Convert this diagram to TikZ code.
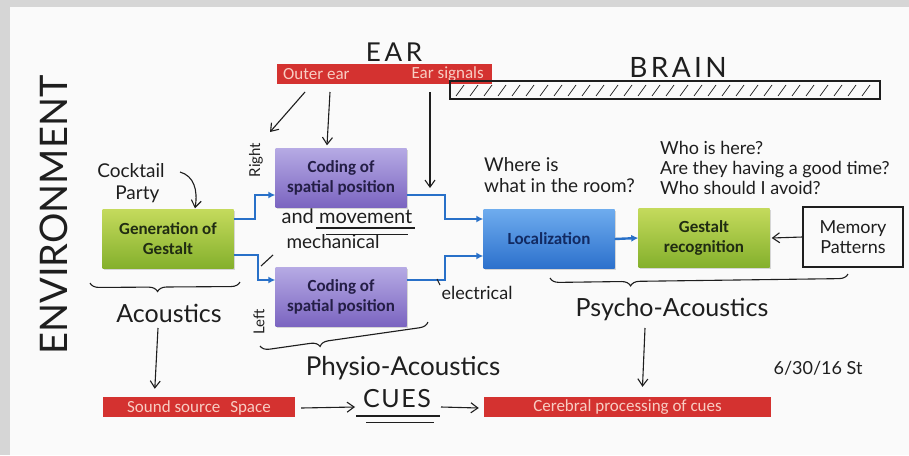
\documentclass[tikz,border=0pt]{standalone}
\usepackage{fontspec}
\setmainfont{Carlito}
\newfontfamily\hand{Lato}
\usetikzlibrary{arrows.meta,decorations.pathreplacing,shadows,calc}
\definecolor{bggray}{RGB}{214,214,214}
\definecolor{paper}{RGB}{250,250,250}
\definecolor{barred}{RGB}{212,50,48}
\definecolor{bartext}{RGB}{248,205,195}
\definecolor{gtop}{RGB}{196,218,92}
\definecolor{gbot}{RGB}{132,176,44}
\definecolor{gtext}{RGB}{32,44,18}
\definecolor{ptop}{RGB}{182,170,228}
\definecolor{pbot}{RGB}{122,100,192}
\definecolor{ptext}{RGB}{36,30,70}
\definecolor{btop}{RGB}{110,172,238}
\definecolor{bbot}{RGB}{44,112,204}
\definecolor{btext}{RGB}{18,42,98}
\definecolor{flow}{RGB}{40,112,200}
\definecolor{pen}{RGB}{30,30,30}
\begin{document}
\begin{tikzpicture}[x=1pt,y=-1pt,
  box/.style={minimum width=131pt,minimum height=59pt,align=center,inner sep=2pt,
    font=\fontsize{17}{20}\selectfont\bfseries,
    drop shadow={shadow xshift=1.5pt,shadow yshift=-1.5pt,opacity=0.3}},
  greenbox/.style={box,top color=gtop,bottom color=gbot,text=gtext},
  purplebox/.style={box,top color=ptop,bottom color=pbot,text=ptext},
  bluebox/.style={box,top color=btop,bottom color=bbot,text=btext},
  redbar/.style={fill=barred,inner sep=0pt,minimum height=20pt},
  bartxt/.style={text=bartext,inner sep=0pt,font=\fontsize{17}{19}\selectfont},
  flowline/.style={draw=flow,line width=2.4pt,-{Latex[length=7pt,width=7pt]}},
  pentip/.style={draw=pen,line width=1.1pt,-{Straight Barb[length=7pt,width=10pt]}},
  penline/.style={draw=pen,line width=1.1pt},
  handtxt/.style={text=pen,inner sep=0pt,align=left,font=\hand\fontsize{#1}{\fpeval{1.12*#1}}\selectfont},
  hbrace/.style={draw=pen,line width=1.1pt,decorate,decoration={brace,mirror,amplitude=9pt,aspect=#1}}
]
\useasboundingbox (0,0) rectangle (909,455);
\fill[bggray] (0,0) rectangle (909,455);
\fill[paper] (10,7) rectangle (909,455);

% boxes
\node[greenbox] (gen) at (168,239) {Generation of\\Gestalt};
\node[purplebox] (code1) at (341,178) {Coding of\\spatial position};
\node[purplebox] (code2) at (341,297) {Coding of\\spatial position};
\node[bluebox] (loc) at (549,239) {Localization};
\node[greenbox] (grec) at (704,238) {Gestalt\\recognition};
\node[draw=pen,line width=1.1pt,minimum width=100pt,minimum height=60pt,handtxt=18,align=center] (mem) at (853,237) {Memory\\Patterns};

% red bars
\node[redbar,minimum width=215pt] (earbar) at (384.5,74) {};
\node[bartxt,anchor=west] (outer) at (283,74.5) {Outer ear};
\node[bartxt,anchor=east] (sig) at (484,74.5) {Ear signals};
\node[redbar,minimum width=192pt] (srcbar) at (199,407) {};
\node[bartxt] (src) at (199,407.5) {Sound source\hspace{6pt} Space};
\node[redbar,minimum width=287pt] (cbar) at (627.5,407) {};
\node[bartxt] (cer) at (627.5,407.5) {Cerebral processing of cues};

% brain bar with hatching
\draw[penline,line width=1.6pt] (450,81) rectangle (880,99);
\foreach \x in {456,470,...,868} \draw[pen,line width=0.7pt] (\x,96) -- (\x+8,85);

% flow connectors
\draw[flowline] ($(gen.east)+(0,-20)$) -| (255,195) -- ($(code1.west)+(0,17)$);
\draw[flowline] ($(gen.east)+(0,16)$) -| (258,280) -- ($(code2.west)+(0,-17)$);
\draw[flowline] ($(code1.east)+(0,17)$) -| (445,219) -- ($(loc.west)+(0,-20)$);
\draw[flowline] ($(code2.east)+(0,-17)$) -| (445,256) -- ($(loc.west)+(0,17)$);
\draw[flowline] (loc.east) -- (grec.west);
\draw[pentip] (mem.west) -- ($(grec.east)+(2,0)$);

% hand arrows
\coordinate (oe1) at (305,92);
\coordinate (oe2) at (330,92);
\coordinate (es1) at (430,92);
\coordinate (rt) at (270,132);
\draw[pentip] (oe1) -- (rt);
\draw[pentip] (oe2) -- ($(code1.north)+(-14,-3)$);
\draw[pentip] (es1) -- (430,188);

% handwritten labels
\node[handtxt=26] (ear) at (394,52) {\addfontfeature{LetterSpace=14}EAR};
\node[handtxt=28] (brain) at (678,67) {\addfontfeature{LetterSpace=12}BRAIN};
\node[handtxt=38,rotate=90] (env) at (54,215) {ENVIRONMENT};
\node[handtxt=19,align=left] (cock) at (131,183) {Cocktail\\\hspace{18pt}Party};
\draw[pentip] (180,172) .. controls (194,176) and (198,190) .. ($(gen.north)+(27,-1)$);
\node[handtxt=15,rotate=90] (right) at (256,160) {Right};
\node[handtxt=15,rotate=90] (left) at (259,322) {Left};
\node[handtxt=20] (mov) at (347,216) {and movement};
\draw[penline] (316,228) -- (415,228);
\draw[penline,line width=0.8pt] (326,234) -- (408,234);
\node[handtxt=19] (mech) at (333,242) {mechanical};
\draw[penline] (261,266) -- (273,255);
\node[handtxt=18] (elec) at (477,293) {electrical};
\draw[penline] (437,279) -- (440,285);
\node[handtxt=19,anchor=north west] (where) at (484,157) {Where is\\what in the room?};
\node[handtxt=18,anchor=north west] (who) at (660,141) {Who is here?\\Are they having a good time?\\Who should I avoid?};

\draw[hbrace=0.45] (90,283) -- (240,282);
\node[handtxt=25] (acou) at (169,313) {Acoustics};
\draw[pentip] (158,328) -- ($(srcbar.north west)+(52,-8)$);

\draw[hbrace=0.35] (260,346) -- (428,322);
\node[handtxt=26] (phys) at (403,368) {Physio-Acoustics};

\draw[hbrace=0.27] (550,278) -- (848,274);
\node[handtxt=25] (psy) at (672,309) {Psycho-Acoustics};
\draw[pentip] (645,328) -- ($(cbar.north)+(15,-10)$);

\node[handtxt=18] (date) at (818,368) {6/30/16 St};

\node[handtxt=25] (cues) at (397,399) {\addfontfeature{LetterSpace=6}CUES};
\draw[penline] (356,416) -- (440,416);
\draw[penline,line width=0.8pt] (366,422) -- (434,422);
\draw[pentip] (srcbar.east) ++(6,1) -- ($(cues.west)+(-8,8)$);
\draw[pentip] ($(cues.east)+(10,8)$) -- ($(cbar.west)+(-5,1)$);
\end{tikzpicture}
\end{document}
